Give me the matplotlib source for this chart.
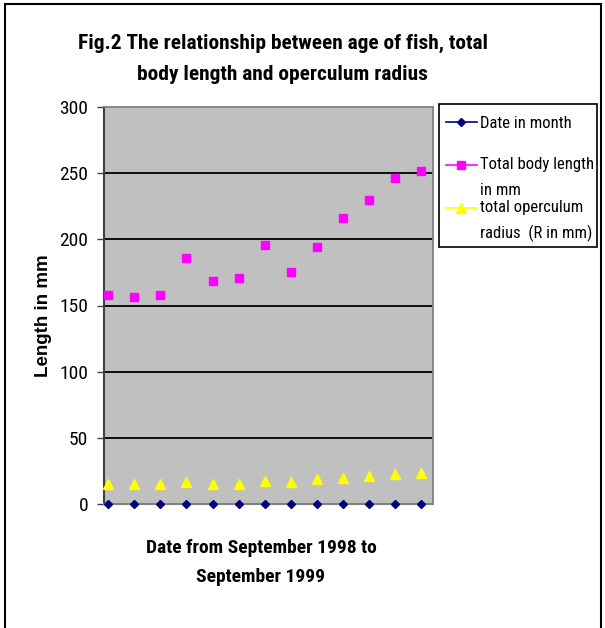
import matplotlib
matplotlib.use("Agg")
import matplotlib.pyplot as plt
from matplotlib.lines import Line2D
from matplotlib.patches import Rectangle

months = list(range(1, 14))
date_in_month = [0] * 13
total_body_length = [157.7, 156.4, 157.7, 186.2, 168.3, 170.8, 195.5, 175.6, 194.5, 215.9, 230.0, 246.6, 251.4]
operculum_radius = [15.4, 15.4, 15.4, 16.4, 15.1, 15.4, 17.6, 16.4, 18.9, 19.9, 21.2, 22.4, 23.7]
y_ticks = [0, 50, 100, 150, 200, 250, 300]
series_labels = ["Date in month", "Total body length\nin mm", "total operculum\nradius  (R in mm)"]
series_colors = ['#000080', '#FF00FF', '#FFFF00']
series_markers = ['D', 's', '^']
series_msize = [4.5, 6, 7.5]

plt.rcParams['font.family'] = ['Roboto Condensed', 'DejaVu Sans']

W, H = 605, 628
fig = plt.figure(figsize=(6.05, 6.28), dpi=100)
ax = fig.add_axes([104/W, 1-504/H, 329/W, 397/H])
ax.set_facecolor('#C0C0C0')

for vals, c, m, ms, z in [(total_body_length, series_colors[1], series_markers[1], series_msize[1], 3),
                          (operculum_radius, series_colors[2], series_markers[2], series_msize[2], 3),
                          (date_in_month, series_colors[0], series_markers[0], series_msize[0], 4)]:
    ax.plot(months, vals, linestyle='none', marker=m, color=c, markersize=ms, clip_on=False, zorder=z)

ax.set_xlim(0.835, 13.46)
ax.set_ylim(0, 300)
ax.set_yticks(y_ticks)
ax.set_yticklabels([str(v) for v in y_ticks], fontsize=14)
ax.set_xticks([])
ax.tick_params(axis='y', direction='out', length=5, width=1, color='#404040', pad=6.5)
for y in y_ticks[1:-1]:
    ax.axhline(y, color='black', linewidth=1.3, zorder=1)
for s in ['top', 'right']:
    ax.spines[s].set_color('#808080')
    ax.spines[s].set_linewidth(1.3)
for s in ['left', 'bottom']:
    ax.spines[s].set_color('#808080')
    ax.spines[s].set_linewidth(1.5)
ax.spines['left'].set_color('#404040')

fig.text(283/W, 1-43/H, "Fig.2 The relationship between age of fish, total", ha='center', va='center', fontsize=15.4, fontweight='bold')
fig.text(282/W, 1-75/H, "body length and operculum radius", ha='center', va='center', fontsize=15.4, fontweight='bold')
fig.text(43/W, 1-316/H, "Length in mm", ha='center', va='center', rotation=90, fontsize=13.5, fontweight='bold',
         family=['Liberation Sans', 'DejaVu Sans'])
fig.text(261/W, 1-548/H, "Date from September 1998 to", ha='center', va='center', fontsize=14, fontweight='bold')
fig.text(261/W, 1-577/H, "September 1999", ha='center', va='center', fontsize=14, fontweight='bold')

# legend box
fig.patches.append(Rectangle((439/W, 1-247/H), 158/W, 143/H, transform=fig.transFigure,
                             facecolor='white', edgecolor='black', linewidth=1.2, zorder=5))
handle_y = [121.5, 165, 208]
line_y = [[121.5], [163, 189], [206, 232]]
for yy, lys, lab, c, m, ms in zip(handle_y, line_y, series_labels, series_colors, series_markers, series_msize):
    fig.add_artist(Line2D([446/W, 477/W], [1-yy/H, 1-yy/H], transform=fig.transFigure, color=c, linewidth=1.2, zorder=6))
    fig.add_artist(Line2D([461.5/W], [1-yy/H], transform=fig.transFigure, color=c, marker=m, markersize=ms,
                          linestyle='none', zorder=7))
    for ly, part in zip(lys, lab.split("\n")):
        fig.text(480/W, 1-(ly + 6)/H, part, ha='left', va='baseline', fontsize=12, zorder=8)

fig.patches.append(Rectangle((5/W, -0.05), 596/W, 1.05 - 4/H, transform=fig.transFigure,
                             fill=False, edgecolor='black', linewidth=1.5))

fig.savefig("out.png", dpi=100)
